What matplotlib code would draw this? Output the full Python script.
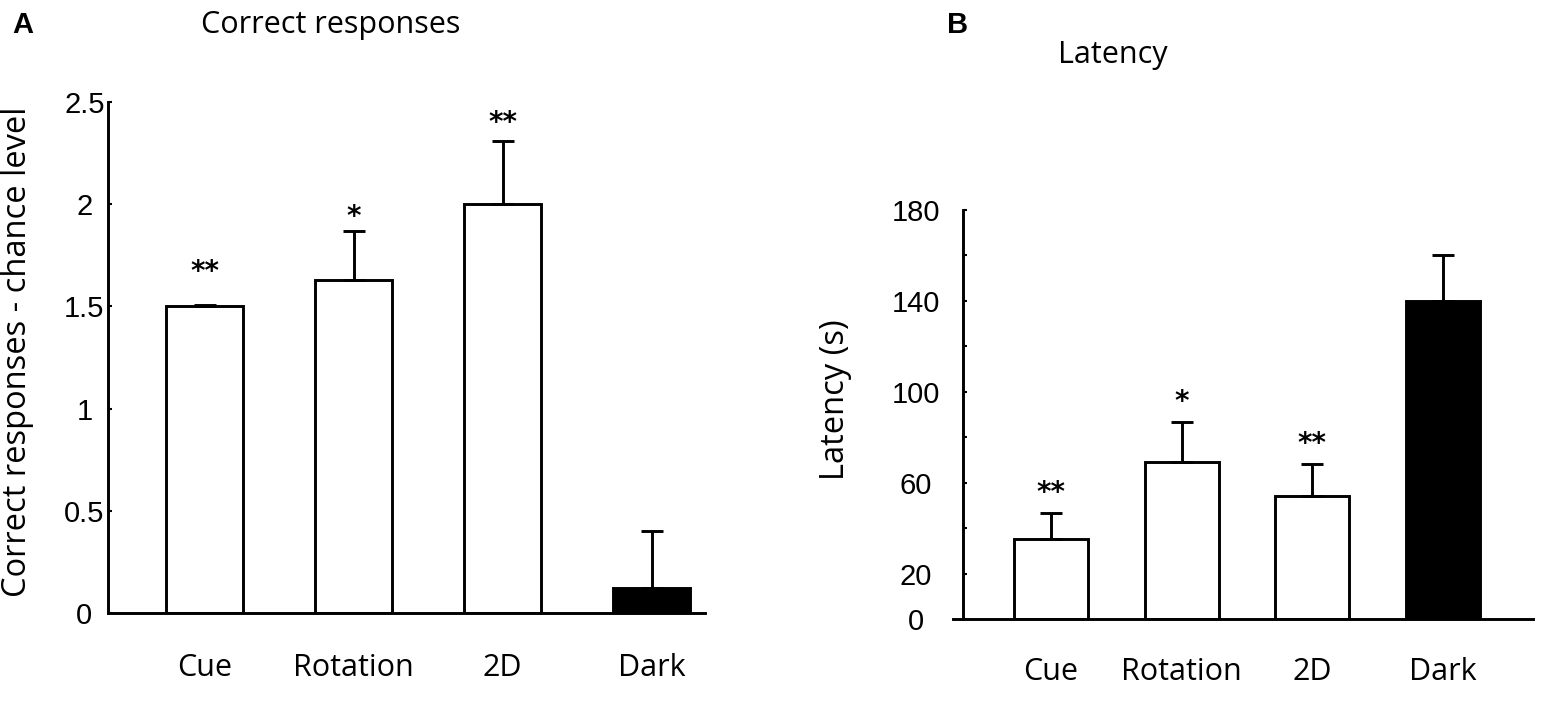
import matplotlib
matplotlib.use('Agg')
import matplotlib.pyplot as plt
import numpy as np

# ---- data ----
categories = ['Cue', 'Rotation', '2D', 'Dark']
bar_colors = ['white', 'white', 'white', 'black']

correct_values = [1.50, 1.63, 2.00, 0.12]
correct_errors = [0.006, 0.24, 0.31, 0.28]
correct_stars = ['**', '*', '**', '']
correct_yticks = [0, 0.5, 1, 1.5, 2, 2.5]
correct_yticklabels = ['0', '0.5', '1', '1.5', '2', '2.5']

latency_values = [35, 69, 54, 140]
latency_errors = [11.5, 17.5, 14, 20]
latency_stars = ['**', '*', '**', '']
latency_yticks = [0, 20, 40, 60, 80, 100, 120, 140, 160, 180]
latency_yticklabels = ['0', '20', '', '60', '', '100', '', '140', '', '180']

# ---- style ----
TXT = ['Open Sans', 'DejaVu Sans']
NUM = ['Liberation Sans', 'DejaVu Sans']
FS = 22
FS_TICK = 21
FS_YLAB = 23.5
LW = 2.1

fig = plt.figure(figsize=(15.5, 7.04), dpi=100)


def panel(rect, values, errors, stars, yticks, yticklabels, ylim, xlim,
          spine_x, width, star_offsets, ypad, xpad):
    ax = fig.add_axes(rect)
    x = np.arange(len(values))
    ax.bar(x, values, width=width, color=bar_colors, edgecolor='black',
           linewidth=LW, zorder=2)
    ax.errorbar(x, values, yerr=[np.zeros(len(values)), errors], fmt='none',
                ecolor='black', elinewidth=LW, capsize=8, capthick=LW, zorder=3)
    for xi, v, e, s, off in zip(x, values, errors, stars, star_offsets):
        if s:
            ax.annotate(s, (xi, v + e), xytext=(0, off), textcoords='offset points',
                        ha='center', va='center', fontsize=20, fontweight='bold',
                        family=['DejaVu Sans'])
    ax.set_xlim(*xlim)
    ax.set_ylim(*ylim)
    for sp in ['top', 'right']:
        ax.spines[sp].set_visible(False)
    ax.spines['left'].set_position(('data', spine_x))
    ax.spines['left'].set_linewidth(LW)
    ax.spines['bottom'].set_linewidth(LW)
    ax.set_xticks(x)
    ax.set_xticklabels(categories, family=TXT, fontsize=FS)
    ax.tick_params(axis='x', length=0, pad=xpad)
    ax.set_yticks(yticks)
    ax.set_yticklabels(yticklabels, family=NUM, fontsize=FS_TICK)
    ax.tick_params(axis='y', direction='in', length=3, width=1.5, pad=ypad)
    for lab in ax.get_yticklabels():
        lab.set_ha('center')
    return ax


axA = panel([108 / 1550, 1 - 613 / 704, (705 - 108) / 1550, (613 - 102) / 704],
            correct_values, correct_errors, correct_stars,
            correct_yticks, correct_yticklabels, (0, 2.5), (-0.648, 3.359),
            -0.648, 0.52, [24, 10, 13], 17, 29)
axB = panel([953 / 1550, 1 - 619 / 704, (1533 - 953) / 1550, (619 - 210) / 704],
            latency_values, latency_errors, latency_stars,
            latency_yticks, latency_yticklabels, (0, 180), (-0.75, 3.69),
            -0.673, 0.566, [15, 15, 15], 34, 27)

fig.text(18 / 1550, 1 - 352 / 704, 'Correct responses - chance level', rotation=90,
         ha='center', va='center', fontsize=FS_YLAB, family=TXT)
fig.text(836 / 1550, 1 - 400 / 704, 'Latency (s)', rotation=90,
         ha='center', va='center', fontsize=FS_YLAB, family=TXT)

fig.text(331 / 1550, 1 - 33 / 704, 'Correct responses', ha='center', va='baseline',
         fontsize=FS, family=TXT)
fig.text(1113 / 1550, 1 - 63 / 704, 'Latency', ha='center', va='baseline',
         fontsize=FS, family=TXT)
fig.text(12 / 1550, 1 - 33 / 704, 'A', ha='left', va='baseline', fontsize=21,
         fontweight='bold', family=NUM)
fig.text(947 / 1550, 1 - 33 / 704, 'B', ha='left', va='baseline', fontsize=21,
         fontweight='bold', family=NUM)

fig.savefig('out.png', dpi=100, facecolor='white')
